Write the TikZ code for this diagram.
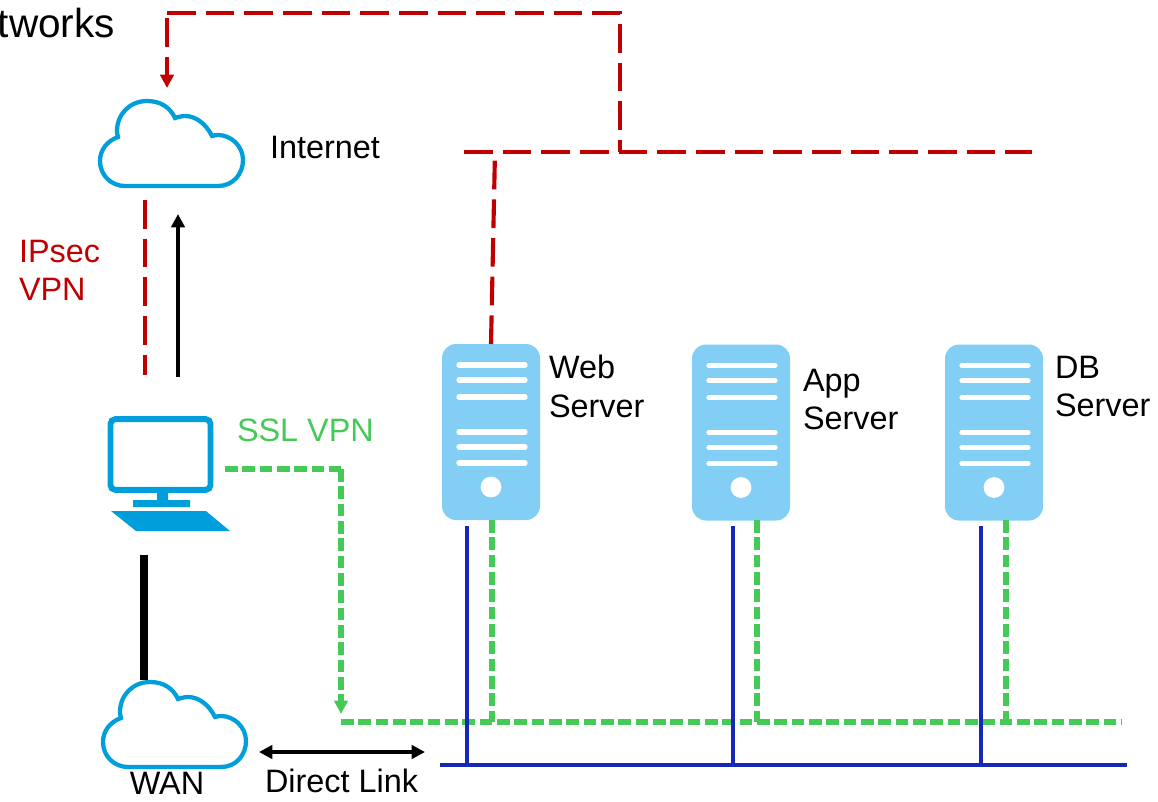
\documentclass[tikz,border=0pt]{standalone}
\usepackage{fontspec}
\setmainfont{Liberation Sans}
\usetikzlibrary{arrows.meta}
\definecolor{vpnred}{HTML}{C00000}
\definecolor{sslgreen}{HTML}{47C957}
\definecolor{iconblue}{HTML}{009FDB}
\definecolor{srvblue}{HTML}{83CEF5}
\definecolor{netblue}{HTML}{1428B4}
\tikzset{
  x=0.75pt, y=-0.75pt,
  label text/.style={inner sep=0pt, outer sep=0pt, font=\fontsize{24.3}{29}\selectfont, align=left},
  ipsec/.style={line width=3.1pt, draw=vpnred, dash pattern=on 21.5pt off 7.5pt},
  ssl/.style={line width=3.9pt, draw=sslgreen, dash pattern=on 9.5pt off 3.5pt},
  netline/.style={draw=netblue, line width=3pt},
  cloud line/.style={draw=iconblue, line width=3.2pt, line join=miter, fill=white},
  srv body/.style={fill=srvblue, draw=none, rounded corners=10.5pt, minimum width=73.5pt, minimum height=132pt, inner sep=0pt},
  srv bar/.style={draw=white, line width=4pt, line cap=round},
  big tip/.style={-{Triangle[length=10pt,width=10pt]}},
  pics/netcloud/.style={code={
    \draw[cloud line] (25,85)
      -- (118,85)
      .. controls (133,85) and (143,73) .. (143,59)
      .. controls (143,45) and (131,34) .. (118,34)
      .. controls (116,34) and (114,34.3) .. (112,35)
      .. controls (106,23) and (96,15) .. (85,15)
      .. controls (82,15) and (78,16) .. (75,17)
      .. controls (70,6) and (60,0) .. (47,0)
      .. controls (30,0) and (17,13) .. (17,30)
      .. controls (17,32) and (17.5,34) .. (18,36)
      .. controls (7,40) and (0,49) .. (0,60)
      .. controls (0,74) and (11,85) .. (25,85) -- cycle;
  }},
  pics/serverbars/.style={code={
    \foreach \yy in {21,36,53,88,103,119}{\draw[srv bar] (17,\yy) -- (83,\yy);}
    \fill[white] (49,143) circle (7.8pt);
  }}
}
\begin{document}
\begin{tikzpicture}
\useasboundingbox (0,0) rectangle (1158,801);
% clouds
\pic at (100,101) {netcloud};
\pic at (103,682) {netcloud};
\coordinate (inetTopArrow) at (167,88);
\coordinate (wanTop) at (144,680);
% computer
\node[draw=iconblue, line width=4.4pt, rounded corners=3.5pt, minimum width=75pt, minimum height=53pt, inner sep=0pt, fill=white] (monitor) at (160.5,454.5) {};
\fill[iconblue] (157,492) rectangle (168,501) (133,500) rectangle (190,507);
\fill[iconblue] (111,511) -- (206,511) -- (230,531) -- (136,531) -- cycle;
% servers
\node[srv body] (web) at (491,432) {};
\node[srv body] (app) at (741,432.5) {};
\node[srv body] (db) at (994,432.5) {};
\pic at (442,344) {serverbars};
\pic at (692,344.5) {serverbars};
\pic at (945,344.5) {serverbars};
% labels
\node[label text, anchor=base east, font=\fontsize{30.4}{36}\selectfont] (title) at (115,37) {tworks};
\node[label text, anchor=base west] (internet) at (270,158) {Internet};
\node[label text, anchor=north west, text=vpnred] (ipsecl) at (19,240) {IPsec\\VPN};
\node[label text, anchor=base west, text=sslgreen] (ssll) at (237,441) {SSL VPN};
\node[label text, anchor=north west] (webl) at (549,355) {Web\\Server};
\node[label text, anchor=north west] (appl) at (803,369) {App\\Server};
\node[label text, anchor=north west] (dbl) at (1055,356) {DB\\Server};
\node[label text, anchor=base] (wanl) at (167,794.5) {WAN};
\node[label text, anchor=base west] (dlink) at (265,792) {Direct Link};
% coordinates
\coordinate (tl) at (167,13);
\coordinate (tlb) at (167,18);
\coordinate (tr) at (620,13);
\coordinate (busL) at (464,152);
\coordinate (busR) at (1032,152);
\coordinate (busM) at (620,152);
\coordinate (busW) at (495,152);
\coordinate (webTop) at (491,344);
\coordinate (ipA) at (145,200);
\coordinate (ipB) at (145,375);
\coordinate (upA) at (178,377);
\coordinate (upB) at (178,214);
\coordinate (pcB) at (144,555);
\coordinate (sA) at (225,469);
\coordinate (sB) at (341,469);
\coordinate (sC) at (341,714);
\coordinate (gL) at (341,722);
\coordinate (gR) at (1122,722);
\coordinate (bL) at (440,765);
\coordinate (bR) at (1127,765);
\coordinate (dlA) at (259,752);
\coordinate (dlB) at (425,752);
% red
\draw[ipsec] (busL) -- (busR);
\draw[ipsec] (tl) -- (tr) -- (busM);
\draw[ipsec, big tip] (tlb) -- (inetTopArrow);
\draw[ipsec] (webTop) -- (busW);
\draw[ipsec] (ipA) -- (ipB);
% black
\draw[black, line width=2.6pt, big tip] (upA) -- (upB);
\draw[black, line width=6pt] (pcB) -- (wanTop);
\draw[black, line width=2.6pt, {Triangle[length=10pt,width=10pt]}-{Triangle[length=10pt,width=10pt]}] (dlA) -- (dlB);
% green
\draw[ssl] (sA) -- (sB);
\draw[ssl, -{Triangle[length=10pt,width=10pt]}] (sB) -- (sC);
\draw[ssl] (gL) -- (gR);
\draw[ssl] (492,520) -- (492,722);
\draw[ssl] (757,520) -- (757,722);
\draw[ssl] (1006,520) -- (1006,722);
% blue
\draw[netline] (bL) -- (bR);
\draw[netline] (467,526) -- (467,765);
\draw[netline] (733,526) -- (733,765);
\draw[netline] (981,526) -- (981,765);
\end{tikzpicture}
\end{document}
